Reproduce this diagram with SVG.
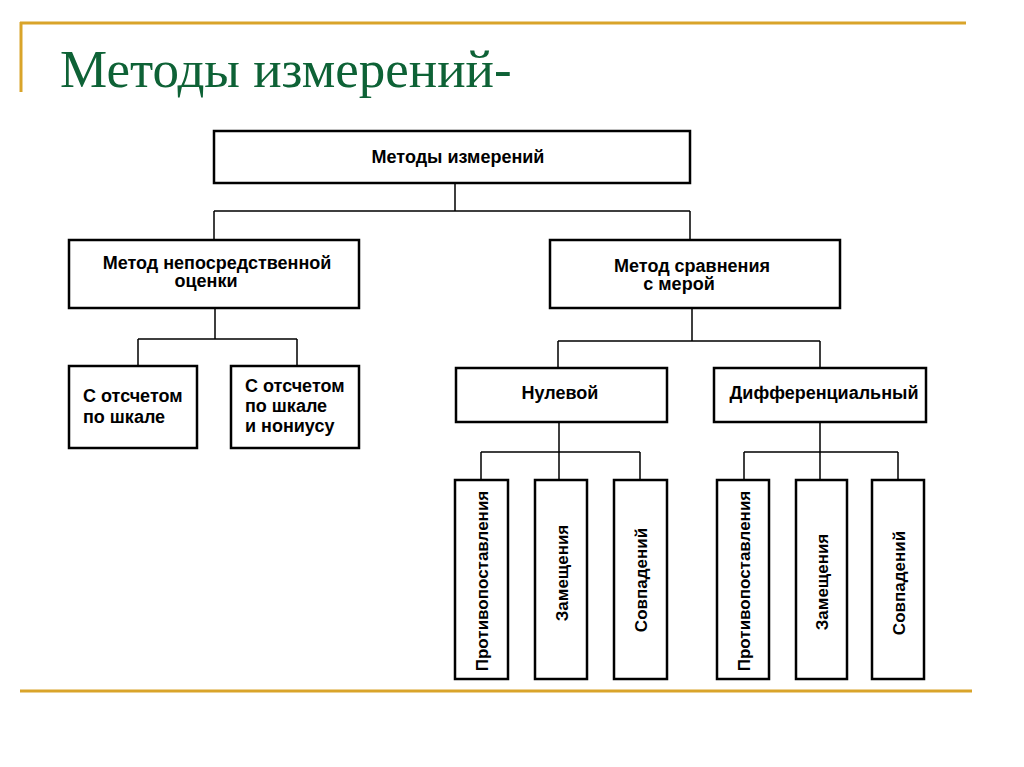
<svg xmlns="http://www.w3.org/2000/svg" width="1024" height="767" viewBox="0 0 1024 767">
<style>
.box{fill:#fff;stroke:#000;stroke-width:2.5}
.con{fill:none;stroke:#000;stroke-width:1.5}
.t{font-family:"Liberation Sans",Arial,sans-serif;font-weight:bold;font-size:18px;fill:#000}
.v{font-family:"Liberation Sans",Arial,sans-serif;font-weight:bold;font-size:17px;fill:#000;text-anchor:middle;dominant-baseline:central}
.gold{stroke:#d9a42a;stroke-width:3;fill:none}
</style>
<rect width="1024" height="767" fill="#fff"/>
<g id="frame">
<line class="gold" x1="20" y1="23" x2="966" y2="23"/>
<line class="gold" x1="21" y1="22" x2="21" y2="92" stroke-width="2"/>
<line class="gold" x1="20" y1="691" x2="972" y2="691"/>
</g>
<text id="title" x="60" y="87" font-family="'Liberation Serif','Times New Roman',serif" font-size="53" fill="#0e6236">Методы измерений-</text>
<g id="connectors">
<path class="con" d="M455 184V211M214 211H690M214 211V240M690 211V240"/>
<path class="con" d="M215 308V339M138 339H297M138 339V366M297 339V366"/>
<path class="con" d="M692 308V341M558 341H820M558 341V368M820 341V368"/>
<path class="con" d="M559 422V452M481 452H640M481 452V480M559 452V480M640 452V480"/>
<path class="con" d="M820 422V452M744 452H898M744 452V480M820 452V480M898 452V480"/>
</g>
<g id="root"><rect class="box" x="214" y="131" width="476" height="52"/><text class="t" x="458" y="163" text-anchor="middle">Методы измерений</text></g>
<g id="direct"><rect class="box" x="69" y="240" width="290" height="68"/><text class="t" x="217" y="269" text-anchor="middle">Метод непосредственной</text><text class="t" x="206" y="287" text-anchor="middle">оценки</text></g>
<g id="compare"><rect class="box" x="550" y="240" width="290" height="68"/><text class="t" x="692" y="272" text-anchor="middle">Метод сравнения</text><text class="t" x="679" y="290" text-anchor="middle">с мерой</text></g>
<g id="scale"><rect class="box" x="69" y="366" width="128" height="82"/><text class="t" x="83" y="402">С отсчетом</text><text class="t" x="83" y="423">по шкале</text></g>
<g id="vernier"><rect class="box" x="231" y="366" width="128" height="82"/><text class="t" x="245" y="392">С отсчетом</text><text class="t" x="245" y="412">по шкале</text><text class="t" x="245" y="432">и нониусу</text></g>
<g id="null"><rect class="box" x="456" y="368" width="211" height="54"/><text class="t" x="560" y="399" text-anchor="middle">Нулевой</text></g>
<g id="diff"><rect class="box" x="714" y="368" width="212" height="54"/><text class="t" x="824" y="399" text-anchor="middle">Дифференциальный</text></g>
<g id="n1"><rect class="box" x="455" y="480" width="53" height="199"/><text class="v" transform="translate(482 581) rotate(-90)">Противопоставления</text></g>
<g id="n2"><rect class="box" x="535" y="480" width="52" height="199"/><text class="v" transform="translate(562 573) rotate(-90)">Замещения</text></g>
<g id="n3"><rect class="box" x="614" y="480" width="53" height="199"/><text class="v" transform="translate(641 580) rotate(-90)">Совпадений</text></g>
<g id="d1"><rect class="box" x="717" y="480" width="52" height="199"/><text class="v" transform="translate(744 581) rotate(-90)">Противопоставления</text></g>
<g id="d2"><rect class="box" x="796" y="480" width="51" height="199"/><text class="v" transform="translate(822 582) rotate(-90)">Замещения</text></g>
<g id="d3"><rect class="box" x="872" y="480" width="52" height="199"/><text class="v" transform="translate(899 583) rotate(-90)">Совпадений</text></g>
</svg>
